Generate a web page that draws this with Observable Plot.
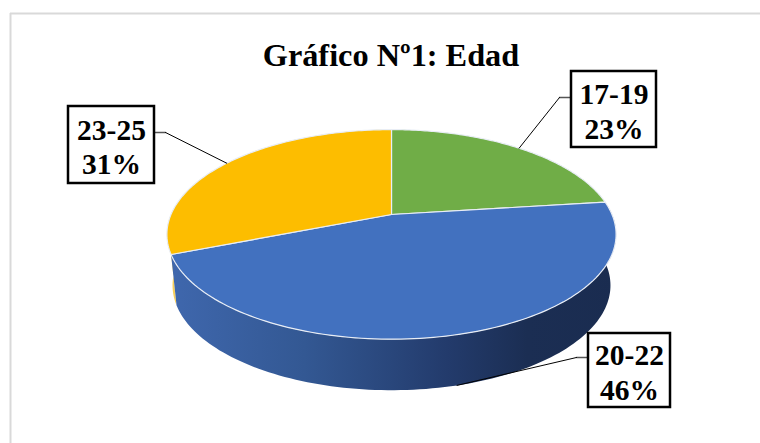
<!DOCTYPE html>
<html>
<head>
<meta charset="utf-8">
<script src="https://cdn.jsdelivr.net/npm/d3@7"></script>
<script src="https://cdn.jsdelivr.net/npm/@observablehq/plot@0.6"></script>
<style>html,body{margin:0;padding:0;background:#fff}svg{display:block}</style>
</head>
<body>
<div id="chart"></div>
<script>
const categories = ["17-19", "20-22", "23-25"];
const values = [23, 46, 31];
const colors = ["#70ad47", "#4271bf", "#fdbd00"];
const titleText = "Gráfico Nº1: Edad";

const W = 760, H = 443;
const font = "'Liberation Serif','Times New Roman',serif";
const pie = {cx: 391, cy: 214, a: 220.5, b: 101, k: 0.19, depth: 51, shrink: 0.975};
const total = d3.sum(values);
const ends = d3.cumsum(values);
const rim = (t, low = false) => {
  const s = Math.sin(t), c = Math.cos(t), w = 1 + pie.k * c;
  const x = pie.a * s / w, y = -pie.b * c / w;
  return low ? {x: pie.cx + x * pie.shrink, y: pie.cy + y + pie.depth}
             : {x: pie.cx + x, y: pie.cy + y};
};
const ang = (v) => v / total * 2 * Math.PI;
const arc = (p, q, low = false) => d3.range(0, 121).map(i => rim(ang(p + (q - p) * i / 120), low));

const slices = categories.map((c, i) => ({c, from: i ? ends[i - 1] : 0, to: ends[i], color: colors[i]}));
const topFace = s => [{x: pie.cx, y: pie.cy}, ...arc(s.from, s.to)];
const sideFace = (p, q) => [...arc(p, q), ...arc(p, q, true).reverse()];

const frontEnd = ends[1] + total * 0.07;
const boxes = [
  {i: 0, x1: 571, x2: 656, y1: 71, y2: 147, knee: [559, 97]},
  {i: 1, x1: 588, x2: 670, y1: 333, y2: 407, knee: [576, 357]},
  {i: 2, x1: 68, x2: 154, y1: 106, y2: 183, knee: [165, 132]}
];
const leaderEnd = b => {
  const s = slices[b.i];
  return rim(ang((s.from + s.to) / 2), b.i === 1);
};

const marks = [
  Plot.ruleX([10], {y1: 13, y2: H, stroke: "#d9d9d9", strokeWidth: 2}),
  Plot.ruleY([13], {x1: 10, x2: W, stroke: "#d9d9d9", strokeWidth: 2}),
  Plot.line(sideFace(ends[1], frontEnd), {x: "x", y: "y", fill: "#f7cf5a", curve: "linear-closed"}),
  Plot.line(sideFace(ends[0], ends[1]), {x: "x", y: "y", fill: "url(#sideGrad)", curve: "linear-closed"}),
  ...slices.map(s => Plot.line(topFace(s), {x: "x", y: "y", fill: s.color, stroke: "#e8edf5", strokeWidth: 1.2, curve: "linear-closed"})),
  ...boxes.flatMap(b => {
    const e = leaderEnd(b);
    const edge = b.knee[0] < b.x1 ? b.x1 : b.x2;
    return [
      Plot.line([{x: edge, y: b.knee[1]}, {x: b.knee[0], y: b.knee[1]}], {x: "x", y: "y", stroke: "#555", strokeWidth: 1.5}),
      Plot.line([{x: b.knee[0], y: b.knee[1]}, e], {x: "x", y: "y", stroke: "#000", strokeWidth: 1}),
      Plot.rect([b], {x1: "x1", x2: "x2", y1: "y1", y2: "y2", fill: "#fff", stroke: "#000", strokeWidth: 2.5}),
      Plot.text([b], {
        x: d => (d.x1 + d.x2) / 2, y: d => (d.y1 + d.y2) / 2 + 1,
        text: d => `${categories[d.i]}\n${values[d.i]}%`,
        fontFamily: font, fontWeight: 700, fontSize: 29.5, lineHeight: 1.17, fill: "#000"
      })
    ];
  }),
  Plot.text([titleText], {x: () => 390.5, y: () => 55, text: d => d, fontFamily: font, fontWeight: 700, fontSize: 32.3, fill: "#000"})
];

const chart = Plot.plot({
  width: W, height: H, margin: 0,
  x: {domain: [0, W], range: [0, W], axis: null},
  y: {domain: [0, H], range: [0, H], axis: null},
  style: {background: "#fff"},
  marks
});
const defs = document.createElementNS("http://www.w3.org/2000/svg", "defs");
defs.innerHTML = `<linearGradient id="sideGrad" x1="0" x2="1" y1="0" y2="0">
  <stop offset="0" stop-color="#3f67ad"/><stop offset="0.3" stop-color="#335893"/>
  <stop offset="0.62" stop-color="#233b6c"/><stop offset="0.8" stop-color="#1b2e53"/>
  <stop offset="1" stop-color="#1a2c50"/></linearGradient>`;
chart.prepend(defs);
document.getElementById("chart").append(chart);
</script>
</body>
</html>
